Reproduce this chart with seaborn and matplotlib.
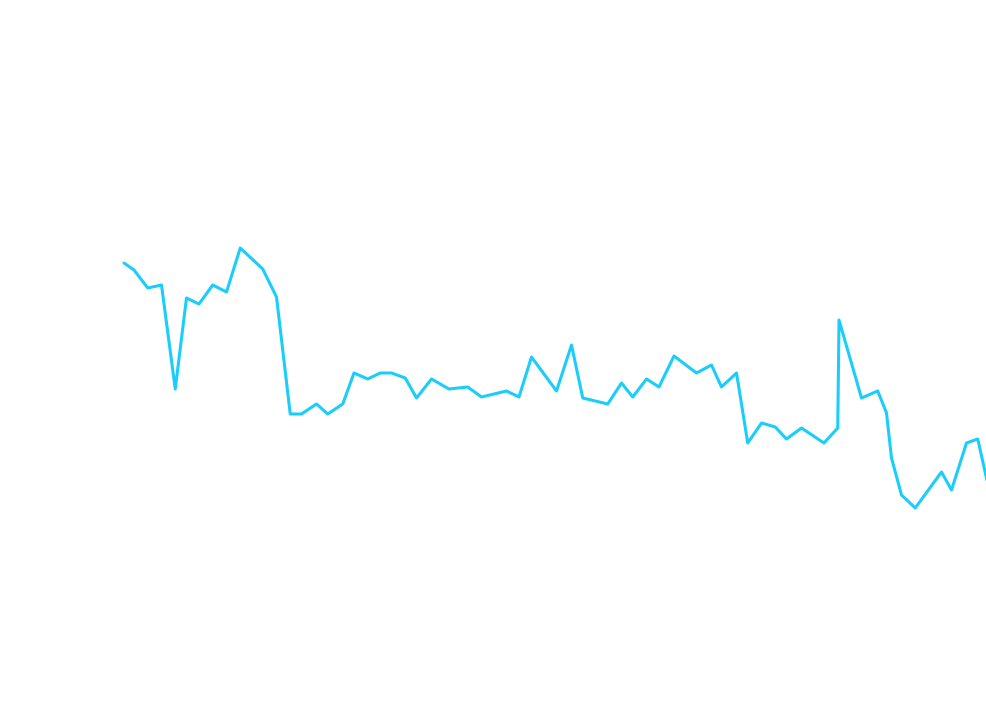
import matplotlib
matplotlib.use("Agg")
import matplotlib.pyplot as plt
import seaborn as sns
import pandas as pd

# day offsets and values
days = [0, 0.8, 1.9, 3.0, 4.1, 5.0, 6.0, 7.1, 8.2, 9.3,
        11.1, 12.2, 13.3, 14.2, 15.4, 16.3, 17.5, 18.4, 19.5, 20.5,
        21.4, 22.5, 23.4, 24.6, 26.0, 27.5, 28.6, 30.6, 31.6, 32.6,
        34.6, 35.8, 36.7, 38.7, 39.8, 40.7, 41.8, 42.8, 44.0, 45.8,
        47.0, 47.8, 49.0, 49.9, 51.0, 52.1, 53.0, 54.2, 56.0, 57.1,
        57.2, 59.0, 60.3, 61.0, 61.4, 62.2, 63.3, 65.4, 66.2, 67.4,
        68.3, 69.3]
values = [44.9, 44.2, 42.4, 42.7, 32.3, 41.4, 40.8, 42.7, 42.0, 46.4,
          44.3, 41.5, 29.8, 29.8, 30.8, 29.8, 30.8, 33.9, 33.3, 33.9,
          33.9, 33.4, 31.4, 33.3, 32.3, 32.5, 31.5, 32.1, 31.5, 35.5,
          32.1, 36.7, 31.4, 30.8, 32.9, 31.5, 33.3, 32.5, 35.6, 33.9,
          34.7, 32.5, 33.9, 26.9, 28.9, 28.5, 27.3, 28.4, 26.9, 28.4,
          39.2, 31.4, 32.1, 29.9, 25.4, 21.7, 20.4, 24.0, 22.2, 26.9,
          27.3, 21.7]

df = pd.DataFrame({"day": days, "value": values})

sns.set_style("white")
fig = plt.figure(figsize=(9.86, 7.12), dpi=100)
ax = fig.add_axes([0, 0, 1, 1])
sns.lineplot(data=df, x="day", y="value", ax=ax, color="#1bcdfb",
             linewidth=2.2, estimator=None, sort=False)
ax.set_xlim(-9.92, 68.96)
ax.set_ylim(0, 71.2)
ax.axis("off")
fig.savefig("out.png", dpi=100, facecolor="white")
